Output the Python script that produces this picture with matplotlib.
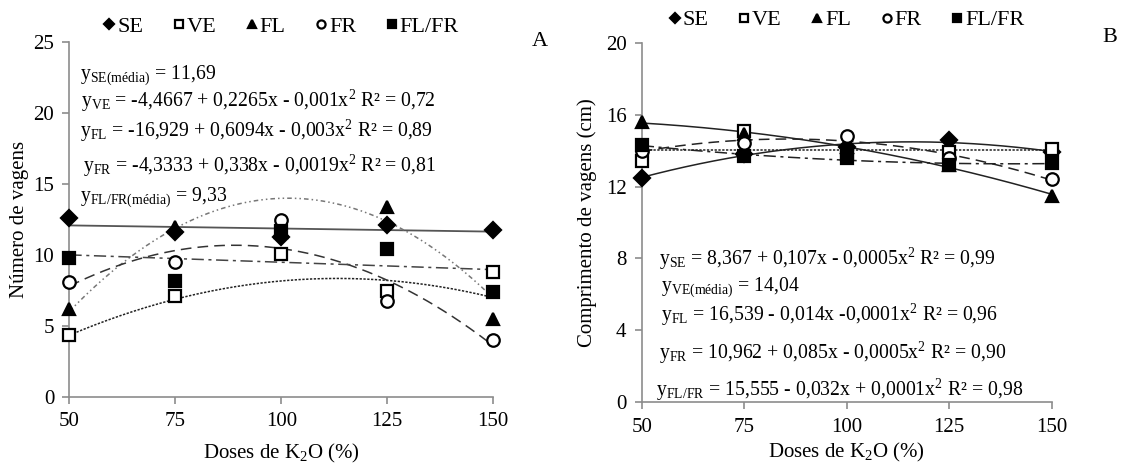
import numpy as np
import matplotlib.pyplot as plt

plt.rcParams['font.family'] = ['Liberation Serif', 'DejaVu Serif']
plt.rcParams['mathtext.fontset'] = 'custom'
plt.rcParams['mathtext.rm'] = 'Liberation Serif'
plt.rcParams['mathtext.it'] = 'Liberation Serif:italic'

doses = [50, 75, 100, 125, 150]

# A - numero de vagens
num_se = [12.6, 11.6, 11.3, 12.1, 11.8]
num_ve = [4.4, 7.1, 10.1, 7.5, 8.8]
num_fl = [6.2, 12.0, 11.6, 13.4, 5.5]
num_fr = [8.1, 9.5, 12.5, 6.8, 4.0]
num_flfr = [9.8, 8.2, 11.7, 10.4, 7.4]

# equacoes ajustadas (a + b x + c x^2)
eq_ve_a = [-4.4667, 0.2265, -0.001]
eq_fl_a = [-16.929, 0.6094, -0.003]
eq_fr_a = [-4.3333, 0.338, -0.0019]

# B - comprimento de vagens (cm)
comp_se = [12.5, 13.8, 14.2, 14.6, 13.9]
comp_ve = [13.4, 15.1, 13.8, 13.9, 14.1]
comp_fl = [15.6, 14.9, 14.2, 13.2, 11.5]
comp_fr = [14.0, 14.4, 14.8, 13.6, 12.4]
comp_flfr = [14.3, 13.7, 13.6, 13.2, 13.3]
media_ve_b = 14.04

txt_a = [r'$\mathrm{y_{SE(média)}}$ = 11,69',
         r'$\mathrm{y_{VE}}$ = -4,4667 + 0,2265x - 0,001x$^2$ R² = 0,72',
         r'$\mathrm{y_{FL}}$ = -16,929 + 0,6094x - 0,003x$^2$ R² = 0,89',
         r'$\mathrm{y_{FR}}$ = -4,3333 + 0,338x - 0,0019x$^2$ R² = 0,81',
         r'$\mathrm{y_{FL/FR(média)}}$ = 9,33']
txt_b = [r'$\mathrm{y_{SE}}$ = 8,367 + 0,107x - 0,0005x$^2$ R² = 0,99',
         r'$\mathrm{y_{VE(média)}}$ = 14,04',
         r'$\mathrm{y_{FL}}$ = 16,539 - 0,014x -0,0001x$^2$ R² = 0,96',
         r'$\mathrm{y_{FR}}$ = 10,962 + 0,085x - 0,0005x$^2$ R² = 0,90',
         r'$\mathrm{y_{FL/FR}}$ = 15,555 - 0,032x + 0,0001x$^2$ R² = 0,98']
labels = ['SE', 'VE', 'FL', 'FR', 'FL/FR']

xs = np.linspace(50, 150, 200)
def quad(c):
    return c[0] + c[1] * xs + c[2] * xs ** 2
def fit(y, deg):
    return np.polyval(np.polyfit(doses, y, deg), xs)

fig = plt.figure(figsize=(11.26, 4.67), dpi=100)
axA = fig.add_axes([0.0617, 0.150, 0.3763, 0.759])
axB = fig.add_axes([0.570, 0.1385, 0.364, 0.7701])

mk = dict(ms=9, mec='k', mew=1.6, ls='none', zorder=5)
styles = [dict(marker='D', mfc='k', ms=8), dict(marker='s', mfc='white'),
          dict(marker='^', mfc='k'), dict(marker='o', mfc='white'),
          dict(marker='s', mfc='k')]

# linhas de tendencia A
axA.plot(xs, fit(num_se, 1), color='#555555', lw=1.3, ls='-')
axA.plot(xs, quad(eq_ve_a), color='#222222', lw=1.1, ls=(0, (1.5, 1)))
axA.plot(xs, quad(eq_fl_a), color='#777777', lw=1.1, ls=(0, (3, 2, 1, 2, 1, 2)))
axA.plot(xs, quad(eq_fr_a), color='#333333', lw=1.1, ls=(0, (7, 4)))
axA.plot(xs, fit(num_flfr, 1), color='#444444', lw=1.1, ls=(0, (8, 3, 2, 3)))

# linhas de tendencia B
axB.plot(xs, fit(comp_se, 2), color='#222222', lw=1.1, ls='-')
axB.plot(xs, np.full_like(xs, media_ve_b), color='#222222', lw=1.1, ls=(0, (1.5, 1)))
axB.plot(xs, fit(comp_fl, 2), color='#222222', lw=1.1, ls='-')
axB.plot(xs, fit(comp_fr, 2), color='#222222', lw=1.1, ls=(0, (7, 4)))
axB.plot(xs, fit(comp_flfr, 2), color='#222222', lw=1.1, ls=(0, (8, 3, 2, 3)))

handles = []
for ys, st, lab in zip([num_se, num_ve, num_fl, num_fr, num_flfr], styles, labels):
    h, = axA.plot(doses, ys, **{**mk, **st}, label=lab)
    handles.append(h)
for ys, st in zip([comp_se, comp_ve, comp_fl, comp_fr, comp_flfr], styles):
    axB.plot(doses, ys, **{**mk, **st})

for ax, ymax, step, ly, lp in [(axA, 25, 5, 1.045, 8), (axB, 20, 4, 1.063, 3.5)]:
    ax.set_xlim(50, 150)
    ax.set_ylim(0, ymax)
    ax.set_xticks(doses)
    ax.set_yticks(np.arange(0, ymax + 1, step))
    for s in ['top', 'right']:
        ax.spines[s].set_visible(False)
    for s in ['left', 'bottom']:
        ax.spines[s].set_color('#8c8c8c')
        ax.spines[s].set_linewidth(1.2)
    ax.tick_params(colors='#8c8c8c', labelcolor='k', labelsize=15, length=5, width=1.2, pad=6)
    ax.set_xlabel(r'Doses de K$_2$O (%)', fontsize=15, labelpad=lp)
    ax.patch.set_alpha(0)
    for l in ax.lines:
        l.set_clip_on(False)
    ax.legend(handles, labels, ncol=5, frameon=False, loc='center',
              bbox_to_anchor=(0.5, ly), fontsize=16, handlelength=0.5,
              handletextpad=0.1, columnspacing=1.35, markerscale=0.65, borderpad=0)

axA.set_ylabel('Número de vagens', fontsize=15, labelpad=3)
axB.set_ylabel('Comprimento de vagens (cm)', fontsize=15, labelpad=6)

for t, (x, y) in zip(txt_a, [(52.5, 22.7), (52.7, 20.9), (52.5, 18.8), (53.3, 16.3), (52.5, 14.1)]):
    axA.text(x, y, t, fontsize=14.2, va='center', ha='left')
for t, (x, y) in zip(txt_b, [(54.1, 8.0), (54.8, 6.4), (54.8, 4.86), (54.1, 2.74), (53.5, 0.7)]):
    axB.text(x, y, t, fontsize=14.2, va='center', ha='left')

fig.text(540 / 1126, 1 - 42 / 467, 'A', fontsize=16, ha='center', va='center')
fig.text(1110 / 1126, 1 - 38 / 467, 'B', fontsize=16, ha='center', va='center')
fig.text(150 / 1126, 1 + 5 / 467, 'Figura 3. Número (A) e comprimento de vagens (B) em função de doses de K2O e épocas de aplicação',
         fontsize=16, ha='left', va='baseline')

fig.savefig('out.png', dpi=100)
